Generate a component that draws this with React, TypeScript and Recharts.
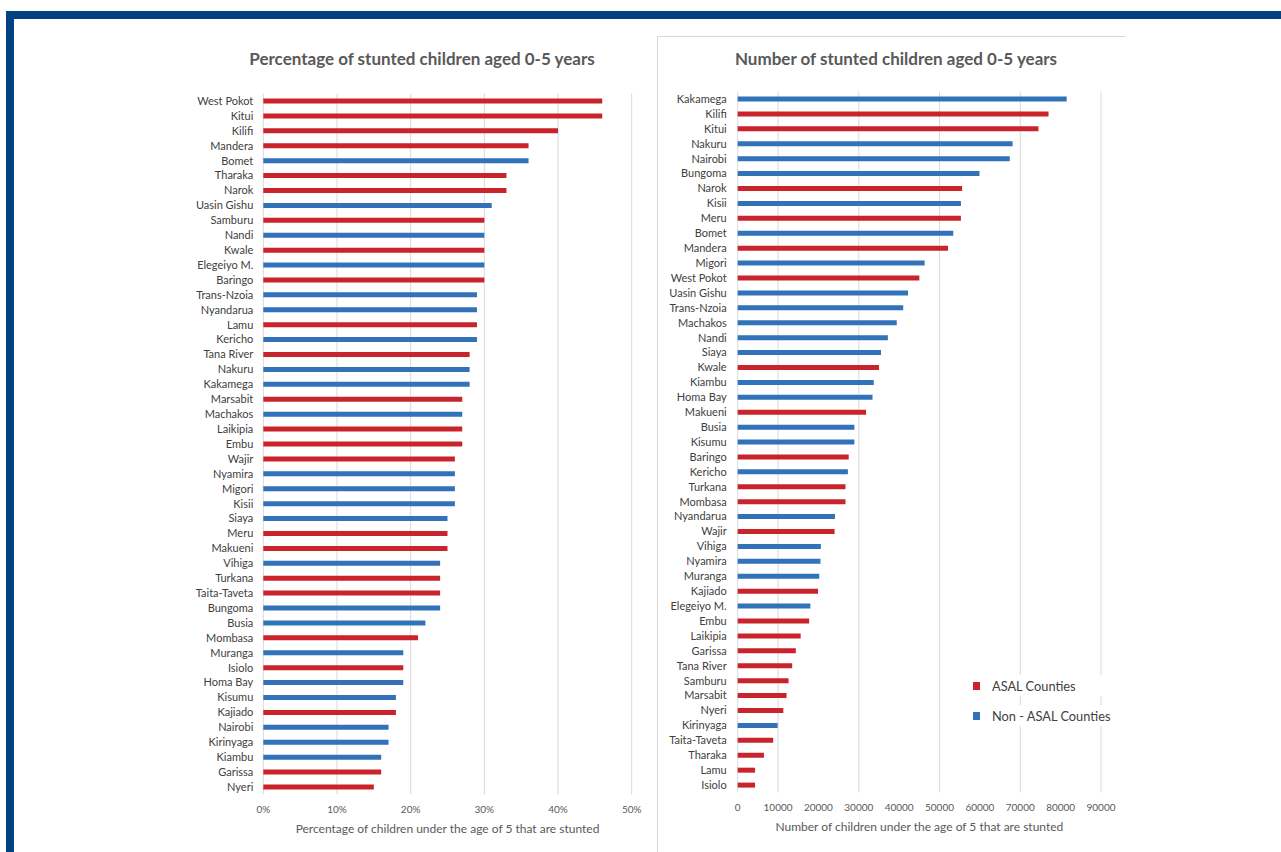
import { BarChart, Bar, XAxis, YAxis, CartesianGrid, Legend } from "recharts";

// Counties classed as arid and semi-arid lands (ASAL)
const asalCounties = [
  "West Pokot", "Kitui", "Kilifi", "Mandera", "Tharaka", "Narok", "Samburu",
  "Kwale", "Baringo", "Lamu", "Tana River", "Marsabit", "Laikipia", "Embu",
  "Wajir", "Meru", "Makueni", "Turkana", "Taita-Taveta", "Mombasa", "Isiolo",
  "Kajiado", "Garissa", "Nyeri",
];

// Share of under-fives that are stunted (%)
const pctCounties = [
  "West Pokot", "Kitui", "Kilifi", "Mandera", "Bomet", "Tharaka", "Narok",
  "Uasin Gishu", "Samburu", "Nandi", "Kwale", "Elegeiyo M.", "Baringo",
  "Trans-Nzoia", "Nyandarua", "Lamu", "Kericho", "Tana River", "Nakuru",
  "Kakamega", "Marsabit", "Machakos", "Laikipia", "Embu", "Wajir", "Nyamira",
  "Migori", "Kisii", "Siaya", "Meru", "Makueni", "Vihiga", "Turkana",
  "Taita-Taveta", "Bungoma", "Busia", "Mombasa", "Muranga", "Isiolo",
  "Homa Bay", "Kisumu", "Kajiado", "Nairobi", "Kirinyaga", "Kiambu", "Garissa",
  "Nyeri",
];
const pctValues = [
  46, 46, 40, 36, 36, 33, 33, 31, 30, 30, 30, 30, 30, 29, 29, 29, 29, 28, 28,
  28, 27, 27, 27, 27, 26, 26, 26, 26, 25, 25, 25, 24, 24, 24, 24, 22, 21, 19,
  19, 19, 18, 18, 17, 17, 16, 16, 15,
];
const pctTicks = [0, 10, 20, 30, 40, 50];

// Number of stunted under-fives
const numCounties = [
  "Kakamega", "Kilifi", "Kitui", "Nakuru", "Nairobi", "Bungoma", "Narok",
  "Kisii", "Meru", "Bomet", "Mandera", "Migori", "West Pokot", "Uasin Gishu",
  "Trans-Nzoia", "Machakos", "Nandi", "Siaya", "Kwale", "Kiambu", "Homa Bay",
  "Makueni", "Busia", "Kisumu", "Baringo", "Kericho", "Turkana", "Mombasa",
  "Nyandarua", "Wajir", "Vihiga", "Nyamira", "Muranga", "Kajiado",
  "Elegeiyo M.", "Embu", "Laikipia", "Garissa", "Tana River", "Samburu",
  "Marsabit", "Nyeri", "Kirinyaga", "Taita-Taveta", "Tharaka", "Lamu", "Isiolo",
];
const numValues = [
  81500, 77000, 74500, 68100, 67400, 59900, 55600, 55300, 55300, 53400, 52100,
  46300, 45000, 42200, 41000, 39400, 37200, 35500, 35000, 33700, 33400, 31800,
  28900, 28900, 27500, 27300, 26700, 26700, 24100, 24000, 20600, 20500, 20200,
  19900, 18000, 17700, 15600, 14400, 13500, 12600, 12100, 11300, 9900, 8800,
  6500, 4300, 4300,
];
const numTicks = [0, 10000, 20000, 30000, 40000, 50000, 60000, 70000, 80000, 90000];

const ASAL_RED = "#c9232b";
const NON_ASAL_BLUE = "#3172b9";
const GRID = "#d9d9d9";
const FRAME = "#00427f";

function toRows(counties: string[], values: number[]) {
  return counties.map((county, i) => {
    const asal = asalCounties.includes(county);
    return { county, asal: asal ? values[i] : 0, nonAsal: asal ? 0 : values[i] };
  });
}

const pctData = toRows(pctCounties, pctValues);
const numData = toRows(numCounties, numValues);

const categoryTick = { fontSize: 11, fill: "#404040" };
const valueTick = { fontSize: 10, fill: "#595959" };
const axisTitle = { fontSize: 12, fill: "#595959" };

function CountyLegend({ payload }: any) {
  return (
    <div>
      {(payload ?? []).map((entry: any) => (
        <div
          key={entry.value}
          style={{
            display: "flex",
            alignItems: "center",
            height: 21,
            marginBottom: 9,
            background: "#fff",
            fontSize: 12.8,
            color: "#404040",
          }}
        >
          <span style={{ width: 7, height: 8, background: entry.color, marginRight: 12 }} />
          <span>{entry.value}</span>
        </div>
      ))}
    </div>
  );
}

const titleStyle: React.CSSProperties = {
  position: "absolute",
  top: 48,
  fontSize: 17,
  fontWeight: 700,
  color: "#595959",
  whiteSpace: "nowrap",
  transform: "translateX(-50%)",
};

export default function App() {
  return (
    <div
      style={{
        position: "absolute",
        left: 0,
        top: 0,
        width: 1281,
        height: 852,
        background: "#fff",
        overflow: "hidden",
        fontFamily: "Lato, 'Open Sans', sans-serif",
      }}
    >
      {/* page frame */}
      <div style={{ position: "absolute", left: 6, top: 11, width: 1275, height: 8, background: FRAME }} />
      <div style={{ position: "absolute", left: 6, top: 11, width: 8, height: 841, background: FRAME }} />

      {/* outline of the second panel */}
      <div
        style={{
          position: "absolute",
          left: 657,
          top: 36,
          width: 468,
          height: 820,
          borderLeft: `1px solid ${GRID}`,
          borderTop: `1px solid ${GRID}`,
        }}
      />

      <div style={{ ...titleStyle, left: 422 }}>Percentage of stunted children aged 0-5 years</div>
      <div style={{ ...titleStyle, left: 896 }}>Number of stunted children aged 0-5 years</div>

      <div style={{ position: "absolute", left: 0, top: 0 }}>
        <BarChart
          width={650}
          height={852}
          data={pctData}
          layout="vertical"
          margin={{ top: 93.5, right: 18.3, bottom: 27.6, left: 83.3 }}
        >
          <CartesianGrid horizontal={false} stroke={GRID} />
          <XAxis
            type="number"
            domain={[0, 50]}
            ticks={pctTicks}
            tickFormatter={(v) => `${v}%`}
            axisLine={false}
            tickLine={false}
            tickSize={0}
            tickMargin={11}
            height={30}
            tick={valueTick}
            label={{
              value: "Percentage of children under the age of 5 that are stunted",
              position: "bottom",
              offset: 0,
              style: axisTitle,
            }}
          />
          <YAxis
            type="category"
            dataKey="county"
            width={180}
            interval={0}
            axisLine={false}
            tickLine={false}
            tickSize={0}
            tickMargin={10}
            tick={categoryTick}
          />
          <Bar dataKey="asal" name="ASAL Counties" stackId="s" fill={ASAL_RED} barSize={5} isAnimationActive={false} />
          <Bar dataKey="nonAsal" name="Non - ASAL Counties" stackId="s" fill={NON_ASAL_BLUE} barSize={5} isAnimationActive={false} />
        </BarChart>
      </div>

      <div style={{ position: "absolute", left: 650, top: 0 }}>
        <BarChart
          width={500}
          height={852}
          data={numData}
          layout="vertical"
          margin={{ top: 91.5, right: 49, bottom: 29.5, left: 7.7 }}
        >
          <CartesianGrid horizontal={false} stroke={GRID} />
          <XAxis
            type="number"
            domain={[0, 90000]}
            ticks={numTicks}
            axisLine={false}
            tickLine={false}
            tickSize={0}
            tickMargin={11}
            height={30}
            tick={valueTick}
            label={{
              value: "Number of children under the age of 5 that are stunted",
              position: "bottom",
              offset: 0,
              style: axisTitle,
            }}
          />
          <YAxis
            type="category"
            dataKey="county"
            width={80}
            interval={0}
            axisLine={false}
            tickLine={false}
            tickSize={0}
            tickMargin={11}
            tick={categoryTick}
          />
          <Legend
            layout="vertical"
            align="center"
            verticalAlign="middle"
            content={CountyLegend}
            wrapperStyle={{ left: 323, top: 675, width: 150, height: 60 }}
          />
          <Bar dataKey="asal" name="ASAL Counties" stackId="s" fill={ASAL_RED} barSize={5} isAnimationActive={false} />
          <Bar dataKey="nonAsal" name="Non - ASAL Counties" stackId="s" fill={NON_ASAL_BLUE} barSize={5} isAnimationActive={false} />
        </BarChart>
      </div>
    </div>
  );
}
